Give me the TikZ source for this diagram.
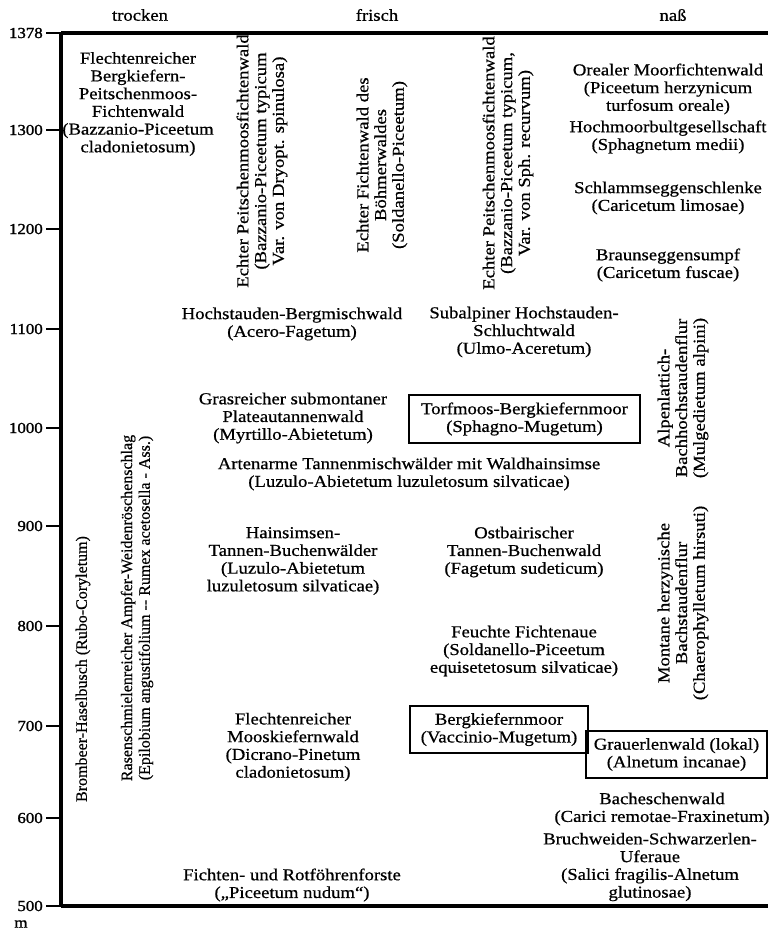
\documentclass[tikz,border=0pt]{standalone}
\usepackage{fontspec}
\setmainfont{Liberation Serif}[FakeStretch=1.12,FakeBold=0.7]
\newfontfamily\condfont{Liberation Serif}[FakeStretch=1.0,FakeBold=0.6]
\newfontfamily\numfont{Liberation Serif}[FakeStretch=1.1,FakeBold=1.4]
\newcommand\txt{\fontsize{12.5pt}{13.3pt}\selectfont}
\newcommand\vtxt{\condfont\fontsize{12pt}{13.3pt}\selectfont}
\newcommand\numtxt{\numfont\fontsize{11.5pt}{12pt}\selectfont}
\begin{document}
\begin{tikzpicture}[x=0.75pt,y=-0.75pt,
  lbl/.style={align=center,inner sep=0pt,font=\txt},
  vlbl/.style={lbl,rotate=90},
  vlblc/.style={align=center,inner sep=0pt,font=\vtxt,rotate=90},
  framed/.style={lbl,draw,line width=1.4pt},
  tickline/.style={line width=1.8pt},
  axisline/.style={line width=2.3pt},
  num/.style={anchor=east,inner sep=0pt,font=\numtxt}]
\path[use as bounding box] (0,0) rectangle (768,937);
% axis
\coordinate (atop) at (61,33);
\coordinate (abot) at (61,906);
\coordinate (rtop) at (768,33);
\coordinate (rbot) at (768,906);
\draw[axisline] (atop) -- (abot);
\draw[axisline] (atop) -- (rtop);
\draw[axisline] (abot) -- (rbot);
% ticks and labels
\foreach \v/\yy in {1378/33,1300/130,1200/229,1100/329,1000/428,900/526,800/626,700/726,600/818,500/906}{
  \coordinate (t\v) at (46,\yy);
  \draw[tickline] (t\v) -- (t\v -| atop);
  \node[num] (n\v) at (43,\yy) {\v};
}
\node[lbl,font=\numtxt] (unit) at (21,924) {m};
% headers
\node[lbl] (h1) at (140,15) {trocken};
\node[lbl] (h2) at (377,15) {frisch};
\node[lbl] (h3) at (673,15) {naß};
% column trocken
\node[lbl] (c1a) at (138,104) {Flechtenreicher\\Bergkiefern-\\Peitschenmoos-\\Fichtenwald\\(Bazzanio-Piceetum\\cladonietosum)};
\node[lbl] (c1b) at (292,324) {Hochstauden-Bergmischwald\\(Acero-Fagetum)};
\node[lbl] (c1c) at (293,418) {Grasreicher submontaner\\Plateautannenwald\\(Myrtillo-Abietetum)};
\node[lbl] (c1d) at (409,474) {Artenarme Tannenmischwälder mit Waldhainsimse\\(Luzulo-Abietetum luzuletosum silvaticae)};
\node[lbl] (c1e) at (293,561) {Hainsimsen-\\Tannen-Buchenwälder\\(Luzulo-Abietetum\\luzuletosum silvaticae)};
\node[lbl] (c1f) at (293,747) {Flechtenreicher\\Mooskiefernwald\\(Dicrano-Pinetum\\cladonietosum)};
\node[lbl] (c1g) at (292,885) {Fichten- und Rotföhrenforste\\(„Piceetum nudum“)};
% vertical texts
\node[vlbl] (v1) at (262,161) {Echter Peitschenmoosfichtenwald\\(Bazzanio-Piceetum typicum\\Var. von Dryopt. spinulosa)};
\node[vlbl] (v2) at (382,165) {Echter Fichtenwald des\\Böhmerwaldes\\(Soldanello-Piceetum)};
\node[vlbl] (v3) at (508,163) {Echter Peitschenmoosfichtenwald\\(Bazzanio-Piceetum typicum,\\Var. von Sph. recurvum)};
\node[vlblc] (vb) at (83,669) {Brombeer-Haselbusch (Rubo-Coryletum)};
\node[vlblc] (vr) at (137,608) {Rasenschmielenreicher Ampfer-Weidenröschenschlag\\(Epilobium angustifolium -- Rumex acetosella - Ass.)};
\node[vlbl] (va) at (683,398) {Alpenlattich-\\Bachhochstaudenflur\\(Mulgedietum alpini)};
\node[vlbl] (vm) at (683,603) {Montane herzynische\\Bachstaudenflur\\(Chaerophylletum hirsuti)};
% column frisch
\node[lbl] (c2a) at (524,332) {Subalpiner Hochstauden-\\Schluchtwald\\(Ulmo-Aceretum)};
\node[framed,minimum width=173.25pt,minimum height=36pt] (b1) at (524.5,419) {Torfmoos-Bergkiefernmoor\\(Sphagno-Mugetum)};
\node[lbl] (c2b) at (524,552) {Ostbairischer\\Tannen-Buchenwald\\(Fagetum sudeticum)};
\node[lbl] (c2c) at (524,651) {Feuchte Fichtenaue\\(Soldanello-Piceetum\\equisetetosum silvaticae)};
\node[framed,minimum width=133.5pt,minimum height=35.25pt] (b2) at (499,729.5) {Bergkiefernmoor\\(Vaccinio-Mugetum)};
\node[framed,minimum width=135.75pt,minimum height=35.25pt] (b3) at (676.5,754.5) {Grauerlenwald (lokal)\\(Alnetum incanae)};
% column nass
\node[lbl] (r1) at (668,89) {Orealer Moorfichtenwald\\(Piceetum herzynicum\\turfosum oreale)};
\node[lbl] (r2) at (668,137) {Hochmoorbultgesellschaft\\(Sphagnetum medii)};
\node[lbl] (r3) at (668,198) {Schlammseggenschlenke\\(Caricetum limosae)};
\node[lbl] (r4) at (668,265) {Braunseggensumpf\\(Caricetum fuscae)};
\node[lbl] (r5) at (662,809) {Bacheschenwald\\(Carici remotae-Fraxinetum)};
\node[lbl] (r6) at (650,867) {Bruchweiden-Schwarzerlen-\\Uferaue\\(Salici fragilis-Alnetum\\glutinosae)};
\end{tikzpicture}
\end{document}
